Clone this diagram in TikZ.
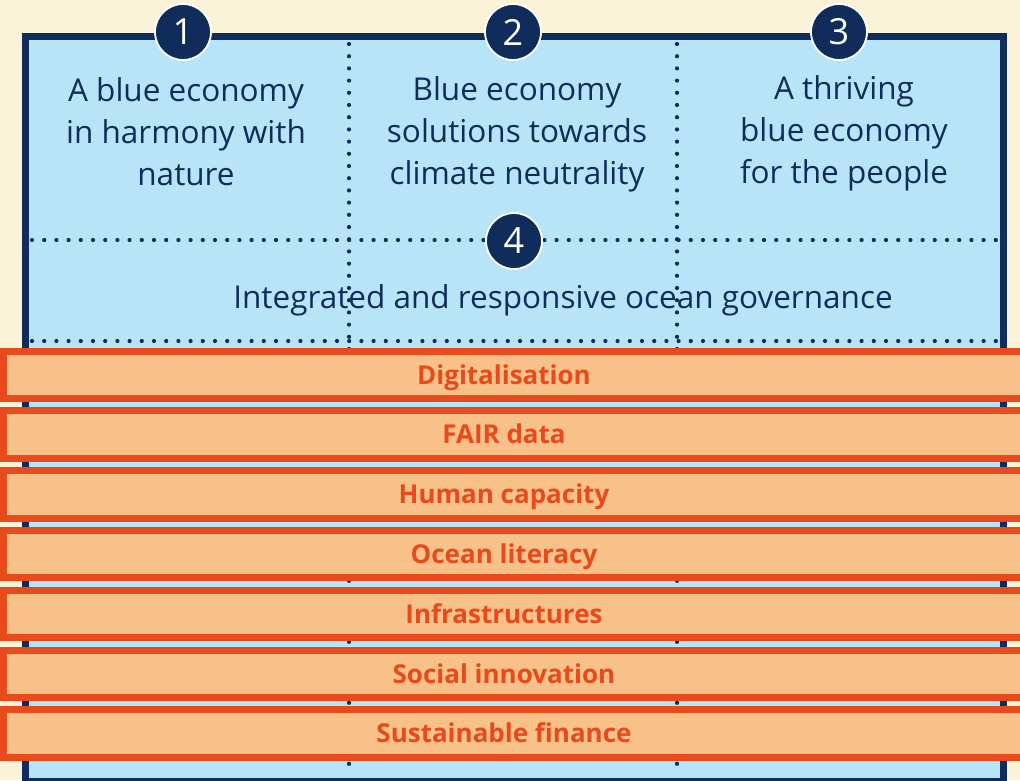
\documentclass[tikz,border=0pt]{standalone}
\usepackage{fontspec}
\setmainfont{Open Sans}
\definecolor{cream}{RGB}{251,243,216}
\definecolor{lightblue}{RGB}{183,228,247}
\definecolor{orangefill}{RGB}{247,193,137}
\definecolor{orangeline}{RGB}{232,74,28}
\definecolor{navy}{RGB}{16,44,90}
\tikzset{
  dotline/.style={navy, line width=4.2pt, line cap=round, dash pattern=on 0pt off 12.2pt},
  numcirc/.style={circle, fill=navy, draw=white, line width=1.8pt, minimum size=56pt, inner sep=0pt, text=white, font=\fontsize{36}{36}\selectfont},
  goaltext/.style={align=center, text=navy, inner sep=0pt, font=\fontsize{31.5}{42}\selectfont},
  barbox/.style={fill=orangefill, draw=orangeline, line width=7pt},
  bartext/.style={text=orangeline, inner sep=0pt, anchor=base, font=\fontsize{26}{26}\selectfont\bfseries}
}
\begin{document}
\begin{tikzpicture}[x=1pt,y=-1pt]
\useasboundingbox (0,0) rectangle (1020,780);
\begin{scope}
\clip (0,0) rectangle (1020,780);
\fill[cream] (0,0) rectangle (1020,780);
\fill[lightblue] (25,36) rectangle (1003,781);
% dotted dividers
\draw[dotline] (349,44) -- (349,775);
\draw[dotline] (677,44) -- (677,775);
\draw[dotline] (32,240) -- (1000,240);
\draw[dotline] (32,341) -- (1000,341);
% frame
\draw[navy, line width=7pt] (25,36) rectangle (1003,781);
% goal texts
\node[goaltext] (t1) at (186,132) {A blue economy\\in harmony with\\nature};
\node[goaltext] (t2) at (517,134) {Blue economy\\solutions towards\\climate neutrality};
\node[goaltext] (t3) at (844,133.5) {A thriving\\blue economy\\for the people};
\node[goaltext] (t4) at (563,300) {Integrated and responsive ocean governance};
% number circles
\node[numcirc] (c1) at (183,32) {1};
\node[numcirc] (c2) at (513,32) {2};
\node[numcirc] (c3) at (839,32) {3};
\node[numcirc] (c4) at (514,241) {4};
% enabler bars
\foreach \i/\lab in {0/Digitalisation,1/FAIR data,2/Human capacity,3/Ocean literacy,4/Infrastructures,5/Social innovation,6/Sustainable finance}{
  \draw[barbox] (3.5,351+59.8*\i) rectangle (1040,398.5+59.8*\i);
  \node[bartext] (bar\i) at (504,384+59.8*\i) {\lab};
}
\end{scope}
\end{tikzpicture}
\end{document}
